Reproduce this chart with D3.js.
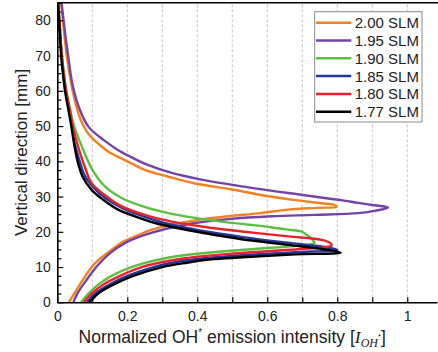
<!DOCTYPE html>
<html>
<head>
<meta charset="utf-8">
<script src="https://cdn.jsdelivr.net/npm/d3@7"></script>
<style>
  body { margin: 0; background: #fff; }
  svg { display: block; font-family: "Liberation Sans", Arial, sans-serif; }
</style>
</head>
<body>
<svg id="chart" width="438" height="352"></svg>
<script>
// flow rates (legend order)
const labels = ["2.00 SLM", "1.95 SLM", "1.90 SLM", "1.85 SLM", "1.80 SLM", "1.77 SLM"];
const colors = ["#f4811f", "#7443a8", "#5bbf41", "#26379a", "#e8222a", "#000000"];

// [vertical position mm, normalized OH* intensity]
const slm200 = [[0,0.033],[3.5,0.055],[7.3,0.079],[11.1,0.108],[14.9,0.155],[17.3,0.19],[18.2,0.212],[20.6,0.27],[22,0.327],[23.4,0.403],[24.4,0.489],[25.3,0.58],[26.3,0.66],[26.8,0.74],[27.1,0.798],[27.6,0.792],[28.1,0.755],[29,0.68],[30.1,0.603],[32,0.5],[33.7,0.394],[35.7,0.315],[37.6,0.25],[40.5,0.19],[42.2,0.155],[43.3,0.138],[47.9,0.088],[52,0.066],[57.3,0.05],[62,0.04],[66,0.033],[70,0.027],[75,0.021],[80,0.016],[85,0.011]];
const slm195 = [[0,0.046],[2.6,0.058],[6.4,0.084],[10.1,0.112],[13.9,0.15],[16.8,0.193],[19.1,0.25],[21,0.317],[22.5,0.393],[23.6,0.489],[24.4,0.612],[24.8,0.736],[25.3,0.86],[26,0.91],[26.9,0.945],[27.6,0.9],[28.2,0.86],[29.1,0.803],[31,0.66],[32.9,0.527],[34.8,0.412],[36.7,0.327],[39.1,0.255],[41.5,0.205],[43.3,0.172],[46,0.133],[49.7,0.09],[55,0.063],[62,0.043],[70,0.031],[75,0.024],[80,0.018],[85,0.012]];
const slm190 = [[0,0.068],[2.5,0.089],[5,0.117],[7.5,0.155],[10,0.212],[12.5,0.308],[14,0.422],[15,0.546],[15.8,0.66],[16.3,0.717],[16.9,0.735],[17.6,0.73],[18.3,0.724],[19.3,0.71],[20,0.7],[20.6,0.66],[21.3,0.61],[22,0.55],[22.9,0.47],[24,0.39],[25.3,0.317],[27.2,0.245],[29.6,0.184],[32.9,0.136],[37.6,0.1],[40,0.088],[43.3,0.074],[50,0.048],[55,0.036],[60,0.026],[65,0.019],[70,0.013],[75,0.009],[80,0.006],[85,0.003]];
const slm185 = [[0,0.085],[2.5,0.108],[5,0.148],[7.5,0.2],[10,0.275],[11.5,0.345],[12.5,0.42],[13.5,0.55],[14.2,0.68],[14.9,0.8],[15.6,0.77],[17,0.65],[18.5,0.53],[20,0.43],[21.5,0.35],[23,0.288],[25,0.228],[27,0.181],[29.5,0.138],[32.5,0.104],[36,0.078],[40,0.064],[45,0.05],[50,0.042],[55,0.033],[60,0.024],[65,0.017],[70,0.012],[75,0.009],[80,0.005],[85,0.002]];
const slm180 = [[0,0.076],[2.5,0.098],[5,0.131],[7.5,0.179],[10,0.241],[12.5,0.365],[14,0.527],[15,0.68],[15.6,0.76],[16.1,0.784],[16.8,0.78],[17.7,0.755],[18.7,0.66],[20.1,0.527],[21.5,0.412],[22.9,0.327],[24.8,0.25],[27.2,0.184],[30,0.141],[33.8,0.098],[38.6,0.078],[43.3,0.062],[50,0.044],[55,0.035],[60,0.025],[65,0.018],[70,0.013],[75,0.009],[80,0.006],[85,0.003]];
const slm177 = [[0,0.092],[2.5,0.117],[5,0.16],[7.5,0.217],[10,0.3],[11.3,0.374],[12,0.42],[13,0.565],[13.6,0.68],[14.1,0.81],[14.9,0.774],[16.3,0.66],[17.9,0.527],[19.6,0.422],[21,0.346],[22.5,0.279],[24.4,0.222],[26.3,0.174],[29.1,0.131],[31.9,0.098],[35.7,0.072],[40,0.058],[45,0.048],[50,0.04],[55,0.031],[60,0.022],[65,0.016],[70,0.011],[75,0.008],[80,0.005],[85,0.002]];
const profiles = [slm200, slm195, slm190, slm185, slm180, slm177];

const xLabelTicks = [0, 0.2, 0.4, 0.6, 0.8, 1];
const yLabelTicks = [0, 10, 20, 30, 40, 50, 60, 70, 80];

const svg = d3.select("#chart");
const x = d3.scaleLinear().domain([0, 1.085]).range([57.3, 437]);
const y = d3.scaleLinear().domain([0, 85]).range([302.3, 2.7]);

// dashed vertical grid
svg.append("g")
  .selectAll("line")
  .data(d3.range(1, 11).map(d => d / 10))
  .join("line")
  .attr("x1", d => x(d)).attr("x2", d => x(d))
  .attr("y1", y(0)).attr("y2", y(85))
  .attr("stroke", "#c4c4c4")
  .attr("stroke-width", 1)
  .attr("stroke-dasharray", "3,2");

svg.append("clipPath").attr("id", "clip")
  .append("rect")
  .attr("x", x(0)).attr("y", y(85))
  .attr("width", 438 - x(0)).attr("height", y(0) - y(85));

const line = d3.line()
  .x(d => x(d[1]))
  .y(d => y(d[0]))
  .curve(d3.curveCatmullRom.alpha(0.5));

svg.append("g")
  .attr("clip-path", "url(#clip)")
  .selectAll("path")
  .data(profiles)
  .join("path")
  .attr("d", line)
  .attr("fill", "none")
  .attr("stroke", (d, i) => colors[i])
  .attr("stroke-width", 2.4)
  .attr("stroke-linejoin", "round");

// axes with inward ticks
const xAxis = svg.append("g")
  .attr("transform", `translate(0,${y(0)})`)
  .call(d3.axisBottom(x)
    .tickValues(d3.range(0, 11).map(d => d / 10))
    .tickSize(-5)
    .tickSizeOuter(0)
    .tickPadding(8.5)
    .tickFormat(d => xLabelTicks.some(v => Math.abs(v - d) < 1e-9) ? d3.format("~g")(d) : ""));

const yAxis = svg.append("g")
  .attr("transform", `translate(${x(0)},0)`)
  .call(d3.axisLeft(y)
    .tickValues(d3.range(0, 35).map(d => d * 2.5))
    .tickSize(-4)
    .tickSizeOuter(0)
    .tickPadding(6.5)
    .tickFormat(d => yLabelTicks.includes(d) ? d : ""));

yAxis.selectAll(".tick line")
  .attr("x2", d => yLabelTicks.includes(d) ? 6 : 4);

[xAxis, yAxis].forEach(g => {
  g.select(".domain").attr("stroke", "#000").attr("stroke-width", 1.6);
  g.selectAll(".tick line").attr("stroke", "#000").attr("stroke-width", 1.2);
  g.selectAll(".tick text")
    .attr("fill", "#222")
    .style("font-size", "14px")
    .style("font-family", "'Liberation Sans', Arial, sans-serif");
});

// top frame
svg.append("line")
  .attr("x1", x(0)).attr("x2", 438)
  .attr("y1", y(85)).attr("y2", y(85))
  .attr("stroke", "#000").attr("stroke-width", 1.6);

// axis titles
const xt = svg.append("text")
  .attr("x", x(0.5)).attr("y", 342.5)
  .attr("text-anchor", "middle")
  .style("font-size", "17.5px")
  .attr("fill", "#222");
xt.append("tspan").text("Normalized OH");
xt.append("tspan").attr("dy", -7).style("font-size", "10px").text("*");
xt.append("tspan").attr("dy", 7).text(" emission intensity [");
xt.append("tspan").style("font-family", "'Liberation Serif', serif").style("font-style", "italic").text("I");
xt.append("tspan").attr("dy", 4).style("font-family", "'Liberation Serif', serif").style("font-style", "italic").style("font-size", "12px").text("OH");
xt.append("tspan").attr("dy", -8).style("font-size", "8px").text("*");
xt.append("tspan").attr("dy", 4).text("]");

svg.append("text")
  .attr("transform", `translate(27,${(y(0) + y(85)) / 2}) rotate(-90)`)
  .attr("text-anchor", "middle")
  .style("font-size", "17px")
  .attr("fill", "#222")
  .text("Vertical direction [mm]");

// legend
const legend = svg.append("g");
legend.append("rect")
  .attr("x", 314.7).attr("y", 11.7)
  .attr("width", 107.3).attr("height", 110.3)
  .attr("fill", "#fff")
  .attr("stroke", "#8a8a8a")
  .attr("stroke-width", 1);

const rows = legend.selectAll("g.row")
  .data(labels)
  .join("g")
  .attr("class", "row")
  .attr("transform", (d, i) => `translate(0,${22.7 + i * 17.8})`);
rows.append("line")
  .attr("x1", 316).attr("x2", 351.3)
  .attr("stroke", (d, i) => colors[i])
  .attr("stroke-width", 2.5);
rows.append("text")
  .attr("x", 354.7).attr("dy", "0.36em")
  .style("font-size", "15px")
  .attr("fill", "#222")
  .text(d => d);
</script>
</body>
</html>
